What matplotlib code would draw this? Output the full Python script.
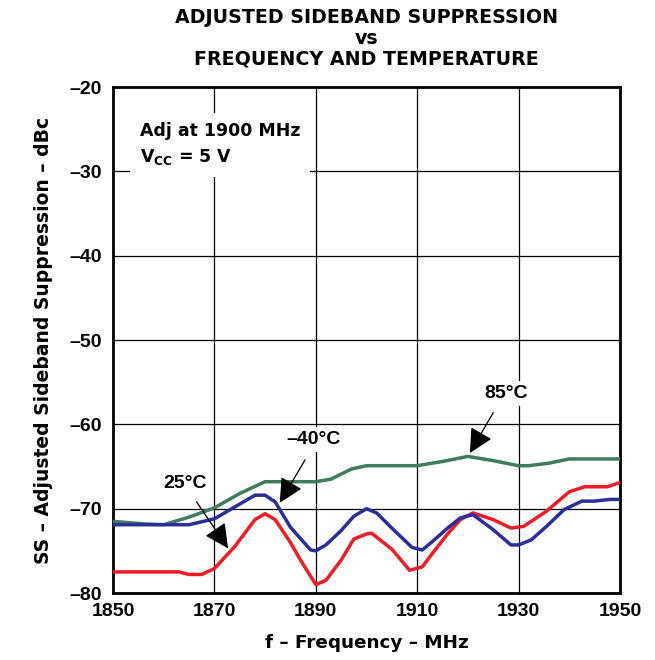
import matplotlib
matplotlib.use("Agg")
import matplotlib.pyplot as plt
from matplotlib.patches import FancyArrowPatch

plt.rcParams['font.family'] = ['Liberation Sans', 'DejaVu Sans']
plt.rcParams['font.weight'] = 'bold'
plt.rcParams['mathtext.fontset'] = 'custom'
plt.rcParams['mathtext.rm'] = 'DejaVu Sans:bold'
plt.rcParams['mathtext.bf'] = 'DejaVu Sans:bold'
plt.rcParams['mathtext.default'] = 'rm'

# 85 °C
f_85 = [1850, 1856, 1860, 1865, 1870, 1875, 1880, 1885, 1890, 1893, 1897, 1900, 1905, 1910, 1915, 1920, 1925, 1930, 1932, 1936, 1940, 1945, 1950]
ss_85 = [-71.5, -71.8, -71.9, -71.0, -69.9, -68.2, -66.8, -66.8, -66.8, -66.5, -65.3, -64.9, -64.9, -64.9, -64.4, -63.8, -64.3, -64.9, -64.9, -64.6, -64.1, -64.1, -64.1]

# -40 °C
f_m40 = [1850, 1855, 1860, 1865, 1870, 1874, 1878, 1880, 1882, 1885, 1889, 1890, 1892, 1895, 1897.5, 1900, 1902, 1905, 1909, 1911, 1913, 1916, 1918.5, 1921, 1925, 1928.5, 1930, 1932.5, 1935.5, 1939, 1942.5, 1945, 1948, 1950]
ss_m40 = [-71.9, -71.9, -71.9, -71.9, -71.2, -69.8, -68.4, -68.4, -69.2, -72.2, -74.9, -75.0, -74.3, -72.6, -70.9, -70.0, -70.5, -72.3, -74.6, -74.9, -73.9, -72.3, -71.1, -70.7, -72.5, -74.3, -74.3, -73.7, -72.1, -70.1, -69.1, -69.1, -68.9, -68.9]

# 25 °C
f_25 = [1850, 1855, 1860, 1863, 1865, 1867.5, 1870, 1874, 1878, 1880, 1882, 1885, 1887, 1890, 1892, 1895, 1897.5, 1900, 1901, 1905, 1908.5, 1911, 1913, 1916, 1918.5, 1921, 1925, 1928.5, 1931, 1935.5, 1940, 1943, 1947.5, 1950]
ss_25 = [-77.5, -77.5, -77.5, -77.5, -77.8, -77.8, -77.1, -74.5, -71.3, -70.6, -71.3, -74.0, -76.1, -79.0, -78.5, -76.1, -73.6, -73.0, -72.9, -74.8, -77.3, -76.9, -75.3, -73.0, -71.3, -70.5, -71.3, -72.3, -72.1, -70.3, -68.0, -67.4, -67.4, -66.9]

x_ticks = [1850, 1870, 1890, 1910, 1930, 1950]
y_ticks = [-20, -30, -40, -50, -60, -70, -80]

fig = plt.figure(figsize=(6.55, 6.6), dpi=100)
ax = fig.add_axes([0.1725, 0.1015, 0.774, 0.7665])

ax.plot(f_85, ss_85, color='#3d7d5b', lw=2.5, solid_joinstyle='round', zorder=3)
ax.plot(f_m40, ss_m40, color='#2a2d9c', lw=2.5, solid_joinstyle='round', zorder=4)
ax.plot(f_25, ss_25, color='#ee1c25', lw=2.5, solid_joinstyle='round', zorder=3)

ax.set_xlim(1850, 1950)
ax.set_ylim(-80, -20)
ax.set_xticks(x_ticks)
ax.set_yticks(y_ticks)
ax.set_xticklabels([str(v) for v in x_ticks], fontsize=14, fontweight='bold')
ax.set_yticklabels(['\u2013' + str(abs(v)) for v in y_ticks], fontsize=14, fontweight='bold')
ax.tick_params(axis='x', length=0, pad=7)
ax.tick_params(axis='y', length=0, pad=8)
ax.grid(True, color='black', lw=0.9, zorder=1)
for s in ax.spines.values():
    s.set_linewidth(2.0)

lab_font = ['DejaVu Sans']
ax.set_xlabel('f \u2013 Frequency \u2013 MHz', fontsize=13.2, fontweight='bold', family=lab_font, labelpad=10)
ax.set_ylabel('SS \u2013 Adjusted Sideband Suppression \u2013 dBc', fontsize=13.5, fontweight='bold',
              family=lab_font, labelpad=12)

fig.text(0.559, 0.942, 'ADJUSTED SIDEBAND SUPPRESSION\nvs\nFREQUENCY AND TEMPERATURE',
         ha='center', va='center', fontsize=13.7, fontweight='bold', family=lab_font, linespacing=1.1)

box = dict(facecolor='white', edgecolor='none', pad=3)
ax.text(1855.3, -26.8, 'Adj at 1900 MHz\nV$_{CC}$ = 5 V', fontsize=12.5, fontweight='bold', family=lab_font,
        ha='left', va='center', linespacing=1.45, bbox=dict(facecolor='white', edgecolor='none', pad=7), zorder=5)

ax.text(1927.6, -56.3, '85\u00b0C', fontsize=14, fontweight='bold', ha='center', va='center', bbox=box, zorder=5)
ax.text(1889.5, -61.8, '\u201340\u00b0C', fontsize=14, fontweight='bold', ha='center', va='center', bbox=box, zorder=5)
ax.text(1864.2, -67.0, '25\u00b0C', fontsize=14, fontweight='bold', ha='center', va='center', bbox=box, zorder=5)

arrows = [((1925.0, -58.6), (1920.4, -63.4)),
          ((1887.9, -64.2), (1882.9, -69.3)),
          ((1866.5, -69.2), (1872.7, -74.7))]
for tail, head in arrows:
    ax.add_patch(FancyArrowPatch(tail, head, arrowstyle='-|>,head_length=1.0,head_width=0.5',
                                 color='black', lw=0.9, mutation_scale=15, shrinkA=0, shrinkB=0, zorder=6))

fig.savefig('out.png', dpi=100)
